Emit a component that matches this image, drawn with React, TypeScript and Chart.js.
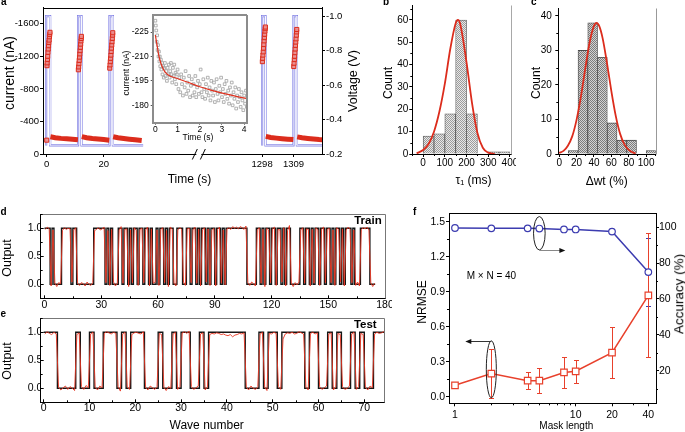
import React, { useEffect, useRef } from 'react';
import { Chart, registerables } from 'chart.js';

Chart.register(...registerables);

const FONT = 'Arial, "Liberation Sans", Helvetica, sans-serif';
Chart.defaults.font.family = FONT;
Chart.defaults.color = '#000';

const RED = '#dc2c1c';
const VOLT = '#8585e6';
const BLUE = '#3c3cb0';

/* ---------------- panel a : pulse train ---------------- */
const timeTicks = [0, 20, 1298, 1309];
const currentTicks = [-1600, -1200, -800, -400, 0];
const voltageTicks = [-1.0, -0.8, -0.6, -0.4, -0.2];

const voltageTime = [-0.2, -0.2, 1.2, 1.2, 11, 11, 12.2, 12.2, 22, 22, 23.2, 23.2, 33.8, 40, 1298, 1298, 1299.2, 1299.2, 1309, 1309, 1310.2, 1310.2, 1322];
const voltageValue = [-0.25, -1.0, -1.0, -0.25, -0.25, -1.0, -1.0, -0.25, -0.25, -1.0, -1.0, -0.25, -0.25, null, -0.25, -1.0, -1.0, -0.25, -0.25, -1.0, -1.0, -0.25, -0.25];

const pulseTime = [
  0, 0.1, 0.15, 0.25, 0.35, 0.45, 0.55, 0.65, 0.75, 0.85, 0.95, 1.05, 1.15,
  11.1, 11.2, 11.3, 11.4, 11.5, 11.6, 11.7, 11.8, 11.9, 12.0, 12.1, 12.15,
  22.1, 22.2, 22.3, 22.4, 22.5, 22.6, 22.7, 22.8, 22.9, 23.0, 23.1, 23.15,
  1298.1, 1298.2, 1298.3, 1298.4, 1298.5, 1298.6, 1298.7, 1298.8, 1298.9, 1299.0, 1299.1, 1299.15,
  1309.1, 1309.2, 1309.3, 1309.4, 1309.5, 1309.6, 1309.7, 1309.8, 1309.9, 1310.0, 1310.1, 1310.15,
];
const pulseCurrent = [
  -170, -1085, -1120, -1160, -1200, -1250, -1290, -1330, -1370, -1400, -1440, -1470, -1495,
  -1035, -1070, -1110, -1150, -1190, -1230, -1270, -1310, -1350, -1390, -1420, -1445,
  -1055, -1095, -1135, -1175, -1215, -1260, -1300, -1340, -1380, -1420, -1460, -1490,
  -1135, -1175, -1215, -1255, -1300, -1345, -1390, -1430, -1470, -1510, -1540, -1560,
  -1075, -1115, -1160, -1200, -1245, -1290, -1335, -1375, -1415, -1460, -1500, -1530,
];
const baselineTime = [1.3, 3, 5, 7, 9, 10.95, 11.5, 12.3, 14, 16, 18, 20, 21.95, 22.5, 23.3, 25, 27, 29, 31, 33.3, 40,
  1299.3, 1301, 1303, 1305, 1307, 1308.95, 1309.5, 1310.3, 1312, 1314, 1316, 1318, 1322];
const baselineCurrent = [-212, -200, -192, -186, -180, -174, null, -214, -200, -191, -184, -177, -170, null, -212, -199, -190, -182, -175, -166, null,
  -216, -203, -195, -188, -182, -177, null, -210, -199, -191, -184, -178, -170];

/* inset */
const insetTimeTicks = [0, 1, 2, 3, 4];
const insetCurrentTicks = [-225, -210, -195, -180];
const insetTime = [
  0.00, 0.02, 0.04, 0.06, 0.08, 0.10, 0.12, 0.14, 0.16, 0.18, 0.20, 0.22,
  0.25, 0.27, 0.30, 0.32, 0.35, 0.38, 0.40,
  0.43, 0.46, 0.49, 0.52, 0.55, 0.58, 0.61, 0.64, 0.67, 0.70, 0.73, 0.76, 0.79, 0.82, 0.85, 0.88, 0.91, 0.94, 0.97, 1.00,
  1.04, 1.08, 1.12, 1.16, 1.20, 1.24, 1.28, 1.32, 1.36, 1.40,
  1.44, 1.48, 1.52, 1.56, 1.60, 1.64, 1.68, 1.72, 1.76, 1.80,
  1.84, 1.88, 1.92, 1.96, 2.00, 2.04, 2.08, 2.12, 2.16, 2.20,
  2.24, 2.28, 2.32, 2.36, 2.40, 2.44, 2.48, 2.52, 2.56, 2.60,
  2.64, 2.68, 2.72, 2.76, 2.80, 2.84, 2.88, 2.92, 2.96, 3.00,
  3.04, 3.08, 3.12, 3.16, 3.20, 3.24, 3.28, 3.32, 3.36, 3.40,
  3.44, 3.48, 3.52, 3.56, 3.60, 3.64, 3.68, 3.72, 3.76, 3.80,
  3.84, 3.88, 3.92, 3.96, 4.00, 4.04, 4.08, 4.12, 4.16,
];
const insetCurrent = [
  -232, -229, -226, -219, -223, -214, -217, -210, -213, -207, -210, -204,
  -208, -202, -206, -199, -204, -197, -203,
  -206, -198, -201, -195, -203, -199, -205, -197, -201, -206, -199, -194, -203, -198, -205, -196, -200, -193, -199, -202,
  -190, -197, -188, -199, -193, -186, -197, -191, -201, -187,
  -194, -189, -198, -185, -192, -196, -186, -193, -188, -198,
  -185, -191, -195, -187, -193, -202, -188, -185, -196, -190,
  -184, -193, -188, -197, -186, -191, -183, -195, -189, -186,
  -194, -182, -190, -196, -187, -183, -192, -188, -197, -185,
  -190, -182, -193, -187, -195, -184, -189, -181, -191, -186,
  -194, -180, -188, -184, -191, -178, -186, -182, -190, -185,
  -179, -188, -183, -177, -186, -181, -189, -179, -184,
];
const insetFitTime = [0, 0.05, 0.1, 0.15, 0.2, 0.3, 0.43, 0.6, 0.96, 1.5, 2.0, 2.5, 3.06, 3.6, 4.1, 4.2];
const insetFitCurrent = [-223.2, -219, -215, -211, -208, -204, -200.6, -198.5, -196.6, -194, -191.4, -189.3, -187.3, -185.6, -184.2, -184];

/* ---------------- panel b : tau histogram ---------------- */
const tauBinCenter = [25, 75, 125, 175, 225, 275, 325, 375];
const tauCount = [8, 9, 18, 60, 18, 0, 1, 1];
const tauFitX = [-30, 0, 25, 50, 75, 100, 125, 150, 160, 170, 200, 225, 250, 275, 300, 330];
const tauFitY = [0.3, 1.8, 4.5, 10, 19, 31.5, 47, 58.5, 60, 58.5, 41, 23, 9.5, 2.8, 0.6, 0.1];
const tauTicks = [0, 100, 200, 300, 400];
const tauCountTicks = [0, 10, 20, 30, 40, 50, 60];

/* ---------------- panel c : weight change histogram ---------------- */
const wtBinCenter = [16.1, 27.3, 38.5, 49.7, 60.9, 72.1, 83.3, 94.5, 105.7];
const wtCount = [1, 30, 38, 28, 9, 4, 4, 0, 1];
const wtFitX = [0, 5, 10, 15, 20, 25, 30, 35, 40, 43, 46, 50, 55, 60, 65, 70, 75, 80, 85, 88];
const wtFitY = [0.3, 0.9, 2.4, 5.1, 9.9, 16.6, 24.7, 32.3, 37.1, 38, 37.1, 33.5, 26.3, 18.2, 11.1, 5.9, 2.8, 1.2, 0.4, 0.2];
const wtTicks = [0, 20, 40, 60, 80, 100];
const wtCountTicks = [0, 10, 20, 30, 40];

/* ---------------- panel d : train ---------------- */
const trainTarget = [
  1, 1, 1, 0, 1, 0, 0, 0, 0, 1,
  1, 1, 1, 1, 0, 1, 1, 0, 0, 0,
  0, 0, 0, 0, 0, 0, 1, 1, 1, 1,
  1, 1, 0, 1, 0, 1, 0, 0, 0, 1,
  1, 0, 1, 1, 0, 1, 0, 1, 1, 0,
  1, 1, 0, 1, 1, 0, 1, 0, 0, 1,
  0, 1, 1, 0, 1, 0, 1, 1, 0, 0,
  1, 1, 1, 0, 0, 1, 1, 0, 1, 1,
  0, 1, 0, 1, 1, 0, 1, 0, 1, 1,
  0, 1, 1, 0, 1, 0, 1, 1, 1, 1,
  1, 1, 1, 1, 1, 1, 1, 0, 0, 0,
  0, 0, 1, 1, 0, 1, 0, 1, 1, 0,
  1, 1, 0, 1, 1, 0, 1, 0, 1, 1,
  0, 0, 0, 0, 0, 1, 1, 0, 1, 1,
  0, 1, 0, 1, 1, 0, 1, 1, 0, 1,
  1, 0, 1, 0, 1, 1, 0, 1, 0, 1,
  1, 1, 0, 1, 0, 0, 0, 1, 1, 1,
  1, 1, 0, 0, 0,
];
const trainOutput = [
  0.98, 1.02, 0.99, -0.03, 0.97, 0.02, -0.04, 0.03, 0.01, 0.96,
  1.01, 0.98, 1.00, 0.99, 0.04, 0.97, 1.01, 0.02, -0.02, 0.03,
  0.01, -0.03, 0.04, 0.00, -0.02, 0.03, 0.96, 0.98, 1.01, 0.97,
  0.99, 1.02, 0.03, 0.96, -0.02, 0.98, 0.04, -0.03, 0.02, 0.97,
  1.03, 0.02, 0.98, 0.99, -0.04, 0.97, 0.03, 1.01, 0.96, -0.02,
  0.98, 1.00, 0.03, 0.97, 1.02, -0.03, 0.99, 0.02, 0.04, 0.97,
  -0.02, 0.98, 1.01, 0.03, 0.96, -0.04, 1.02, 0.99, 0.02, -0.03,
  0.97, 1.01, 0.98, 0.04, -0.02, 0.99, 1.00, 0.03, 0.97, 1.02,
  0.02, 0.98, -0.03, 0.97, 1.01, 0.04, 0.99, -0.02, 0.96, 1.00,
  -0.03, 0.98, 1.02, 0.02, 0.97, -0.01, 0.99, 1.01, 0.98, 1.03,
  1.00, 1.02, 0.99, 1.03, 1.01, 0.98, 1.04, 0.03, -0.02, 0.04,
  0.01, -0.03, 0.97, 1.01, 0.02, 0.98, -0.04, 1.00, 0.97, 0.03,
  0.99, 1.02, -0.02, 0.98, 0.97, 0.04, 1.01, -0.03, 0.96, 1.05,
  0.02, -0.04, 0.03, -0.01, 0.04, 0.97, 1.01, 0.02, 0.99, 0.98,
  -0.03, 0.98, 0.02, 1.01, 0.97, -0.02, 0.99, 1.02, 0.03, 0.98,
  1.00, 0.03, 0.97, -0.02, 1.01, 0.98, 0.04, 0.99, -0.03, 0.97,
  1.02, 0.98, 0.03, 0.97, -0.02, 0.04, -0.03, 0.98, 1.01, 0.99,
  1.02, 0.97, 0.03, -0.04, 0.02,
];
const trainTicks = [0, 30, 60, 90, 120, 150, 180];

/* ---------------- panel e : test ---------------- */
const testTarget = [
  1, 1, 1, 0, 0, 0, 0, 1, 0, 0,
  1, 0, 0, 1, 1, 1, 0, 1, 0, 1,
  1, 1, 0, 0, 0, 1, 0, 0, 1, 0,
  1, 1, 0, 0, 1, 0, 1, 1, 1, 1,
  1, 1, 1, 1, 0, 0, 0, 1, 0, 1,
  1, 0, 1, 1, 1, 1, 1, 0, 1, 1,
  0, 0, 1, 0, 1, 0, 0, 1, 0, 1,
  0, 0, 1, 1, 1,
];
// two output samples per wave
const testOutput = [
  0.97, 1.01, 0.98, 0.96, 1.00, 0.97, 0.02, -0.03, 0.01, 0.04, -0.02, 0.03, 0.00, -0.04, 0.96, 0.99, 0.03, -0.02, 0.05, 0.01,
  0.97, 1.00, 0.02, -0.03, 0.04, 0.01, 0.98, 1.01, 0.99, 0.97, 1.00, 0.98, 0.03, -0.05, 0.97, 1.00, 0.02, -0.02, 0.96, 0.99,
  1.00, 0.98, 0.97, 1.01, 0.02, -0.03, 0.04, 0.01, -0.02, 0.03, 0.98, 0.96, 0.02, -0.04, 0.03, 0.00, 0.97, 1.00, -0.02, 0.03,
  0.99, 1.01, 0.98, 1.02, 0.03, -0.02, 0.01, 0.04, 0.97, 0.99, -0.03, 0.02, 0.96, 0.98, 0.97, 0.99, 0.98, 0.96, 0.97, 0.95,
  0.94, 0.96, 0.92, 0.95, 0.96, 0.98, 0.97, 0.99, 0.02, -0.03, 0.04, 0.00, -0.02, 0.03, 0.97, 1.00, 0.02, -0.04, 0.98, 0.97,
  1.00, 0.98, 0.03, -0.02, 0.88, 0.97, 0.99, 0.98, 1.00, 0.97, 0.98, 1.01, 0.99, 0.97, 0.02, -0.03, 0.98, 1.00, 0.97, 0.99,
  0.03, -0.02, 0.01, 0.04, 0.97, 0.99, -0.03, 0.02, 0.98, 0.96, 0.03, -0.02, 0.00, 0.04, 0.97, 1.00, -0.02, 0.03, 0.98, 0.96,
  0.02, -0.03, 0.04, 0.01, 0.97, 1.00, 0.98, 0.99, 1.01, 0.97,
];
const testTicks = [0, 10, 20, 30, 40, 50, 60, 70];
const outputTicks = [0, 0.5, 1.0];

/* ---------------- panel f : mask length ---------------- */
const maskLength = [1, 2, 4, 5, 8, 10, 20, 40];
const nrmse = [0.10, 0.20, 0.14, 0.14, 0.21, 0.22, 0.38, 0.87];
const nrmseErr = [0.01, 0.21, 0.07, 0.105, 0.13, 0.10, 0.22, 0.53];
const accuracy = [99.6, 99.4, 99.4, 99.3, 98.8, 98.8, 97.6, 75.0];
const accuracyErr = [0, 0, 0, 0, 0, 0, 1.6, 19];
const maskTicks = [1, 10, 20, 40];
const nrmseTicks = [0, 0.3, 0.6, 0.9, 1.2, 1.5];
const accuracyTicks = [20, 40, 60, 80, 100];

/* ---------------- helpers ---------------- */
const BREAK_SHIFT = 1298 - 75.5; // display shift for the segment after the axis break
const toDisplayTime = (t: number) => (t > 600 ? t - BREAK_SHIFT : t);

function mkAxis(o: any): any {
  const color = o.color || '#000';
  return {
    type: o.type || 'linear',
    position: o.position,
    min: o.min,
    max: o.max,
    reverse: !!o.reverse,
    bounds: 'data',
    offset: false,
    beginAtZero: false,
    afterFit: (s: any) => {
      if (s.isHorizontal()) { s.height = o.size; s.paddingLeft = 0; s.paddingRight = 0; }
      else { s.width = o.size; s.paddingTop = 0; s.paddingBottom = 0; }
    },
    afterBuildTicks: (s: any) => { s.ticks = o.ticks.map((v: number) => ({ value: v })); },
    border: { display: true, color, width: o.width || 1 },
    grid: { display: true, offset: false, drawOnChartArea: false, drawTicks: true, tickLength: o.tickLength ?? 3, tickColor: o.tickColor || color, tickWidth: 1 },
    ticks: {
      autoSkip: false, maxRotation: 0, minRotation: 0, padding: o.padding ?? 1, color: '#000',
      font: { family: FONT, size: o.fontSize || 10, lineHeight: 1 },
      callback: (v: any) => (o.label ? o.label(Number(v)) : String(v)),
    },
    title: { display: false },
  };
}

/* plugins are built per chart, their settings are kept in closures */
function frame(sides: string, color: string, width = 1) {
  return {
    id: 'frame',
    afterDraw(chart: any) {
      const { ctx, chartArea } = chart;
      const al = (p: number) => (width % 2 === 1 ? Math.round(p) + 0.5 : Math.round(p));
      const l = al(chartArea.left), r = al(chartArea.right), t = al(chartArea.top), b = al(chartArea.bottom);
      ctx.save();
      ctx.strokeStyle = color;
      ctx.lineWidth = width;
      ctx.beginPath();
      if (sides.includes('t')) { ctx.moveTo(l, t); ctx.lineTo(r, t); }
      if (sides.includes('r')) { ctx.moveTo(r, t); ctx.lineTo(r, b); }
      if (sides.includes('l')) { ctx.moveTo(l, t); ctx.lineTo(l, b); }
      if (sides.includes('b')) { ctx.moveTo(l, b); ctx.lineTo(r, b); }
      ctx.stroke();
      ctx.restore();
    },
  };
}

function minorTicks(axes: any[]) {
  return {
    id: 'minorTicks',
    afterDraw(chart: any) {
      const { ctx, chartArea: ca } = chart;
      ctx.save();
      ctx.lineWidth = 1;
      for (const a of axes) {
        const s = chart.scales[a.id];
        if (!s) continue;
        let vals: number[] = a.values;
        if (!vals) {
          const t = s.ticks.map((k: any) => k.value);
          const sub = a.sub || 2;
          const step = (t[1] - t[0]) / sub;
          vals = [];
          for (let v = t[0] - step * sub; v <= t[t.length - 1] + step * sub + 1e-9; v += step) {
            if (!t.some((m: number) => Math.abs(m - v) < Math.abs(step) * 1e-3)) vals.push(v);
          }
        }
        ctx.strokeStyle = a.color || '#000';
        ctx.beginPath();
        for (const v of vals) {
          const p = s.getPixelForValue(v);
          if (s.isHorizontal()) {
            if (p < ca.left - 0.5 || p > ca.right + 0.5) continue;
            const px = Math.round(p) + 0.5;
            const y0 = s.position === 'top' ? ca.top : ca.bottom;
            const dir = s.position === 'top' ? -1 : 1;
            ctx.moveTo(px, y0); ctx.lineTo(px, y0 + dir * a.len);
          } else {
            if (p < ca.top - 0.5 || p > ca.bottom + 0.5) continue;
            const py = Math.round(p) + 0.5;
            const x0 = s.position === 'right' ? ca.right : ca.left;
            const dir = s.position === 'right' ? 1 : -1;
            ctx.moveTo(x0, py); ctx.lineTo(x0 + dir * a.len, py);
          }
        }
        ctx.stroke();
      }
      ctx.restore();
    },
  };
}

function axisBreak(at: number) {
  return {
    id: 'axisBreak',
    afterDraw(chart: any) {
      const ctx = chart.ctx;
      const x = chart.scales.x.getPixelForValue(at);
      const y = chart.chartArea.bottom;
      ctx.save();
      ctx.fillStyle = '#fff';
      ctx.fillRect(x - 3, y - 2, 5, 4);
      ctx.strokeStyle = '#000';
      ctx.lineWidth = 1;
      ctx.beginPath();
      ctx.moveTo(x - 7, y + 5.5); ctx.lineTo(x - 2, y - 5);
      ctx.moveTo(x + 1, y + 5.5); ctx.lineTo(x + 6, y - 5);
      ctx.stroke();
      ctx.restore();
    },
  };
}

function errorBars(sets: any[]) {
  return {
    id: 'errorBars',
    beforeDatasetsDraw(chart: any) {
      const ctx = chart.ctx;
      ctx.save();
      for (const set of sets) {
        const meta = chart.getDatasetMeta(set.dataset);
        const ds = chart.data.datasets[set.dataset];
        const ys = chart.scales[meta.yAxisID];
        ctx.strokeStyle = set.color;
        ctx.lineWidth = 1;
        meta.data.forEach((pt: any, i: number) => {
          const e = set.errors[i];
          if (!e) return;
          const v = ds.data[i].y;
          const y1 = Math.round(ys.getPixelForValue(v + e)) + 0.5;
          const y2 = Math.round(ys.getPixelForValue(v - e)) + 0.5;
          const x = Math.round(pt.x) + 0.5;
          ctx.beginPath();
          ctx.moveTo(x, y1); ctx.lineTo(x, y2);
          ctx.moveTo(x - set.cap, y1); ctx.lineTo(x + set.cap, y1);
          ctx.moveTo(x - set.cap, y2); ctx.lineTo(x + set.cap, y2);
          ctx.stroke();
        });
      }
      ctx.restore();
    },
  };
}

function callouts(items: any[]) {
  return {
    id: 'callouts',
    afterDatasetsDraw(chart: any) {
      const ctx = chart.ctx;
      const xs = chart.scales.x;
      ctx.save();
      for (const it of items) {
        const cx = xs.getPixelForValue(it.x);
        const cy = chart.scales[it.axis].getPixelForValue(it.y) + it.dy;
        ctx.strokeStyle = '#222';
        ctx.lineWidth = 1;
        ctx.beginPath();
        ctx.ellipse(cx, cy, it.rx, it.ry, 0, 0, Math.PI * 2);
        ctx.stroke();
        const ay = Math.round(cy + it.arrowDy) + 0.5;
        const ex = cx + it.dir * it.len;
        ctx.strokeStyle = it.lineColor;
        ctx.beginPath();
        ctx.moveTo(cx, ay); ctx.lineTo(ex - it.dir * 4, ay);
        ctx.stroke();
        ctx.fillStyle = '#111';
        ctx.beginPath();
        ctx.moveTo(ex, ay); ctx.lineTo(ex - it.dir * 6, ay - 2.5); ctx.lineTo(ex - it.dir * 6, ay + 2.5);
        ctx.closePath();
        ctx.fill();
      }
      ctx.restore();
    },
  };
}

function baseOptions(padding: any, scales: any) {
  return {
    responsive: false,
    maintainAspectRatio: false,
    animation: false,
    events: [],
    layout: { autoPadding: false, padding: { left: 0, bottom: 0, ...padding } },
    plugins: { legend: { display: false }, tooltip: { enabled: false } },
    scales,
  };
}

function hatch(canvas: HTMLCanvasElement, dark: string, light: string) {
  const tile = document.createElement('canvas');
  tile.width = 2; tile.height = 2;
  const g = tile.getContext('2d')!;
  g.fillStyle = light; g.fillRect(0, 0, 2, 2);
  g.fillStyle = dark; g.fillRect(0, 0, 1, 1); g.fillRect(1, 1, 1, 1);
  return canvas.getContext('2d')!.createPattern(tile, 'repeat');
}

const xy = (xs: number[], ys: (number | null)[]) => xs.map((x, i) => ({ x, y: ys[i] }));

/* ---------------- chart factories ---------------- */
function makeA() {
  const pts = (ts: number[], vs: (number | null)[]) => ts.map((t, i) => ({ x: toDisplayTime(t), y: vs[i] }));
  return {
    type: 'line',
    data: {
      datasets: [
        { data: pts(pulseTime, pulseCurrent), showLine: false, pointStyle: 'rect', pointRadius: 2.9, pointBorderWidth: 1, pointBorderColor: RED, pointBackgroundColor: 'rgba(236,140,140,0.9)', yAxisID: 'y', order: 0 },
        { data: pts(baselineTime, baselineCurrent), borderColor: RED, borderWidth: 5, pointRadius: 0, spanGaps: false, yAxisID: 'y', order: 1 },
        { data: pts(voltageTime, voltageValue), borderColor: 'rgba(255,255,255,0.9)', borderWidth: 0.7, pointRadius: 0, spanGaps: false, yAxisID: 'y1', order: 2 },
        { data: pts(voltageTime, voltageValue), borderColor: VOLT, borderWidth: 2.2, pointRadius: 0, spanGaps: false, yAxisID: 'y1', order: 3 },
      ],
    },
    options: baseOptions({ top: 7.5, right: 0 }, {
      x: mkAxis({ position: 'bottom', min: -1.3, max: 96.5, size: 34, ticks: timeTicks.map(toDisplayTime), label: (v: number) => String(Math.round(v > 60 ? v + BREAK_SHIFT : v)), fontSize: 9.5, tickLength: 3, padding: 3 }),
      y: mkAxis({ position: 'left', min: -1800, max: 0, reverse: true, size: 43, ticks: currentTicks, fontSize: 9.5, tickLength: 3, padding: 1 }),
      y1: mkAxis({ position: 'right', min: -1.05, max: -0.2, reverse: true, size: 40, ticks: voltageTicks, label: (v: number) => v.toFixed(1), fontSize: 9.5, tickLength: 3, padding: 1 }),
    }),
    plugins: [frame('t', '#000'), axisBreak(53.5)],
  };
}

function makeInset() {
  return {
    type: 'line',
    data: {
      datasets: [
        { data: xy(insetFitTime, insetFitCurrent), borderColor: '#e0301e', borderWidth: 1.2, pointRadius: 0, cubicInterpolationMode: 'monotone', order: 0 },
        { data: xy(insetTime, insetCurrent), showLine: false, pointStyle: 'rect', pointRadius: 1.9, pointBorderWidth: 0.8, pointBorderColor: '#a0a0a0', pointBackgroundColor: 'rgba(255,255,255,0)', order: 1 },
      ],
    },
    options: baseOptions({ top: 3, right: 4.7 }, {
      x: mkAxis({ position: 'bottom', min: -0.12, max: 4.14, size: 21.3, ticks: insetTimeTicks, fontSize: 8.5, tickLength: 2, padding: 0.5, color: '#8c8c8c', width: 2, tickColor: '#555' }),
      y: mkAxis({ position: 'left', min: -235.5, max: -169.3, reverse: true, size: 34.7, ticks: insetCurrentTicks, fontSize: 8.5, tickLength: 2, padding: 2, color: '#8c8c8c', width: 2, tickColor: '#555' }),
    }),
    plugins: [frame('tr', '#8c8c8c', 2)],
  };
}

function makeB(canvas: HTMLCanvasElement) {
  return {
    type: 'bar',
    data: {
      datasets: [
        { type: 'line', data: xy(tauFitX, tauFitY), borderColor: RED, borderWidth: 1.8, pointRadius: 0, cubicInterpolationMode: 'monotone', order: 0 },
        { type: 'bar', data: xy(tauBinCenter, tauCount), backgroundColor: hatch(canvas, '#9c9c9c', '#e8e8e8'), borderColor: '#5a5a5a', borderWidth: 0.8, barPercentage: 1, categoryPercentage: 1, order: 1 },
      ],
    },
    options: baseOptions({ top: 5, right: 5 }, {
      x: mkAxis({ position: 'bottom', min: -50, max: 405, size: 36, ticks: tauTicks, fontSize: 10, tickLength: 3, padding: 1 }),
      y: mkAxis({ position: 'left', min: 0, max: 66.7, size: 44.3, ticks: tauCountTicks, fontSize: 10, tickLength: 3, padding: 1 }),
    }),
    plugins: [frame('r', '#a8a8a8'), minorTicks([{ id: 'x', sub: 2, len: 2 }, { id: 'y', sub: 2, len: 2 }])],
  };
}

function makeC(canvas: HTMLCanvasElement) {
  return {
    type: 'bar',
    data: {
      datasets: [
        { type: 'line', data: xy(wtFitX, wtFitY), borderColor: RED, borderWidth: 1.8, pointRadius: 0, cubicInterpolationMode: 'monotone', order: 0 },
        { type: 'bar', data: xy(wtBinCenter, wtCount), backgroundColor: hatch(canvas, '#7c7c7c', '#d2d2d2'), borderColor: '#4a4a4a', borderWidth: 0.8, barPercentage: 1, categoryPercentage: 1, order: 1 },
      ],
    },
    options: baseOptions({ top: 8.3, right: 4.3 }, {
      x: mkAxis({ position: 'bottom', min: -1, max: 111, size: 36, ticks: wtTicks, fontSize: 10, tickLength: 3, padding: 1 }),
      y: mkAxis({ position: 'left', min: 0, max: 42.2, size: 38.3, ticks: wtCountTicks, fontSize: 10, tickLength: 3, padding: 3.5 }),
    }),
    plugins: [frame('r', '#999'), minorTicks([{ id: 'x', sub: 2, len: 2 }, { id: 'y', sub: 2, len: 2 }])],
  };
}

function makeWave(target: number[], output: number[], samplesPerWave: number, xMin: number, xMax: number, ticks: number[], pad: any, xSize: number, xPad: number, endX: number) {
  const targetPts = target.map((b, i) => ({ x: i, y: b }));
  targetPts.push({ x: endX, y: target[target.length - 1] });
  const outPts = output.map((v, k) => ({ x: (k + 0.5) / samplesPerWave, y: v }));
  return {
    type: 'line',
    data: {
      datasets: [
        { data: outPts, borderColor: 'rgba(232,52,32,0.9)', borderWidth: 1, pointRadius: 0, order: 0 },
        { data: targetPts, stepped: true, borderColor: '#151515', borderWidth: 1.4, pointRadius: 0, order: 1 },
      ],
    },
    options: baseOptions(pad, {
      x: mkAxis({ position: 'bottom', min: xMin, max: xMax, size: xSize, ticks, fontSize: 10.5, tickLength: -3, padding: xPad }),
      y: mkAxis({ position: 'left', min: -0.25, max: 1.25, size: 40.7, ticks: outputTicks, label: (v: number) => v.toFixed(1), fontSize: 10.5, tickLength: -3, padding: 1.4 }),
    }),
    plugins: [frame('tr', '#777'), minorTicks([{ id: 'x', sub: 2, len: -2 }, { id: 'y', sub: 2, len: -2 }])],
  };
}

function makeD() {
  return makeWave(trainTarget, trainOutput, 1, -2, 180, trainTicks, { top: 9.3, right: 7 }, 14.7, 4.2, 174.8);
}
function makeE() {
  return makeWave(testTarget, testOutput, 2, -0.65, 74.3, testTicks, { top: 10.3, right: 8 }, 29.7, 3.5, 74.3);
}

function makeF() {
  return {
    type: 'line',
    data: {
      datasets: [
        { data: xy(maskLength, accuracy), yAxisID: 'y1', borderColor: BLUE, borderWidth: 1.5, pointStyle: 'circle', pointRadius: 3.3, pointBorderWidth: 1.2, pointBorderColor: BLUE, pointBackgroundColor: '#fff', order: 0 },
        { data: xy(maskLength, nrmse), yAxisID: 'y', borderColor: '#e8412c', borderWidth: 1.5, pointStyle: 'rect', pointRadius: 4.6, pointBorderWidth: 1.2, pointBorderColor: '#e8412c', pointBackgroundColor: '#fff', order: 1 },
      ],
    },
    options: baseOptions({ top: 8.3, right: 0 }, {
      x: mkAxis({ type: 'logarithmic', position: 'bottom', min: 0.892, max: 46.3, size: 28.7, ticks: maskTicks, fontSize: 10.5, tickLength: 3, padding: 3.7 }),
      y: mkAxis({ position: 'left', min: -0.054, max: 1.572, size: 41, ticks: nrmseTicks, label: (v: number) => v.toFixed(1), fontSize: 10.5, tickLength: 3, padding: 1 }),
      y1: mkAxis({ position: 'right', min: 1.8, max: 107.8, size: 29, ticks: accuracyTicks, fontSize: 10.5, tickLength: 3, padding: 0 }),
    }),
    plugins: [
      frame('t', '#000'),
      minorTicks([
        { id: 'x', values: [2, 3, 4, 5, 6, 7, 8, 9, 30], len: 2 },
        { id: 'y', sub: 2, len: 2 },
        { id: 'y1', sub: 2, len: 2 },
      ]),
      errorBars([
        { dataset: 0, errors: accuracyErr, color: BLUE, cap: 2.5 },
        { dataset: 1, errors: nrmseErr, color: '#e8412c', cap: 2.5 },
      ]),
      callouts([
        { x: 5, y: 99.3, axis: 'y1', dy: 4.7, rx: 5.8, ry: 16.7, arrowDy: 16.7, dir: 1, len: 26, lineColor: '#888' },
        { x: 2, y: 0.2, axis: 'y', dy: -4.3, rx: 5, ry: 28.5, arrowDy: -28.5, dir: -1, len: 26, lineColor: '#333' },
      ]),
    ],
  };
}

/* ---------------- components ---------------- */
function ChartBox({ left, top, width, height, make }: any) {
  const ref = useRef<HTMLCanvasElement>(null);
  useEffect(() => {
    const canvas = ref.current!;
    const chart = new Chart(canvas, make(canvas));
    return () => chart.destroy();
  }, []);
  return (
    <canvas ref={ref} width={width} height={height}
      style={{ position: 'absolute', left, top, width, height }} />
  );
}

function Txt({ x, y, size, bold, rotate, children, anchor }: any) {
  const tr = anchor === 'center'
    ? `translate(-50%, -50%)${rotate ? ' rotate(-90deg)' : ''}`
    : undefined;
  return (
    <div style={{
      position: 'absolute', left: x, top: y, fontSize: size, fontWeight: bold ? 'bold' : 'normal',
      lineHeight: 1, whiteSpace: 'nowrap', color: '#000', transform: tr, fontFamily: FONT,
    }}>{children}</div>
  );
}

export default function App() {
  return (
    <div style={{ position: 'absolute', left: 0, top: 0, width: 685, height: 432, background: '#fff', overflow: 'hidden', fontFamily: FONT }}>
      <ChartBox left={0} top={0} width={362} height={188} make={makeA} />
      <ChartBox left={118} top={12} width={134} height={132} make={makeInset} />
      <ChartBox left={368} top={0} width={148} height={190} make={makeB} />
      <ChartBox left={520} top={0} width={140} height={190} make={makeC} />
      <ChartBox left={0} top={205} width={392} height={108} make={makeD} />
      <ChartBox left={0} top={308} width={392} height={124} make={makeE} />
      <ChartBox left={408} top={205} width={277} height={227} make={makeF} />

      {/* panel letters */}
      <Txt x={1} y={-3.5} size={10} bold>a</Txt>
      <Txt x={383} y={-3.5} size={10} bold>b</Txt>
      <Txt x={531} y={-3.5} size={10} bold>c</Txt>
      <Txt x={0.5} y={206.5} size={10} bold>d</Txt>
      <Txt x={0.5} y={309.2} size={10} bold>e</Txt>
      <Txt x={413} y={206.5} size={10} bold>f</Txt>

      {/* axis titles */}
      <Txt anchor="center" x={9.2} y={73.3} size={14} rotate>current (nA)</Txt>
      <Txt anchor="center" x={352.5} y={80.8} size={12.5} rotate>Voltage (V)</Txt>
      <Txt anchor="center" x={189.5} y={178.5} size={12}>Time (s)</Txt>
      <Txt anchor="center" x={126.3} y={73.3} size={8.5} rotate>current (nA)</Txt>
      <Txt anchor="center" x={198} y={137} size={8.5}>Time (s)</Txt>
      <Txt anchor="center" x={387.5} y={82.5} size={12} rotate>Count</Txt>
      <Txt anchor="center" x={473.5} y={180} size={12}>τ₁ (ms)</Txt>
      <Txt anchor="center" x={536} y={82.5} size={12} rotate>Count</Txt>
      <Txt anchor="center" x={606.7} y={181} size={12}>Δwt (%)</Txt>
      <Txt anchor="center" x={6.7} y={257.5} size={12.5} rotate>Output</Txt>
      <Txt anchor="center" x={6.7} y={360.8} size={12.5} rotate>Output</Txt>
      <Txt anchor="center" x={206.7} y={425} size={12}>Wave number</Txt>
      <Txt anchor="center" x={421.7} y={301.7} size={12} rotate>NRMSE</Txt>
      <Txt anchor="center" x={566.3} y={425.7} size={10}>Mask length</Txt>
      <Txt anchor="center" x={679} y={294} size={13.5} rotate>Accuracy (%)</Txt>

      {/* in-plot labels */}
      <div style={{ position: 'absolute', right: 685 - 381.7, top: 214.6, fontSize: 11.5, fontWeight: 'bold', lineHeight: 1, fontFamily: FONT }}>Train</div>
      <div style={{ position: 'absolute', right: 685 - 376.7, top: 319.3, fontSize: 11.5, fontWeight: 'bold', lineHeight: 1, fontFamily: FONT }}>Test</div>
      <Txt x={466.7} y={270.5} size={10}>M × N = 40</Txt>
    </div>
  );
}
